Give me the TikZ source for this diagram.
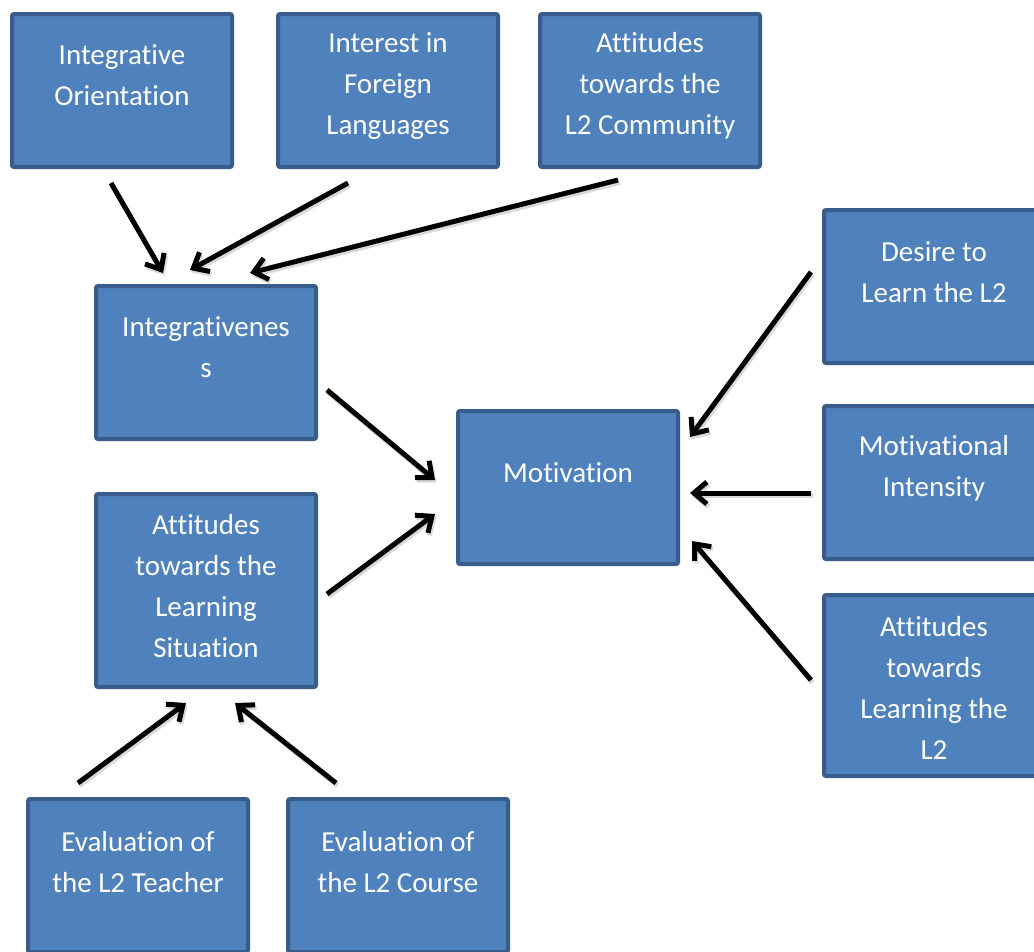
\documentclass[tikz,border=0pt]{standalone}
\usepackage{fontspec}
\setmainfont{Carlito}[Ligatures=NoCommon]
\usetikzlibrary{arrows.meta}
\definecolor{boxfill}{HTML}{4F81BD}
\definecolor{boxline}{HTML}{385D8A}
\tikzset{
  box/.style={draw=boxline, fill=boxfill, line width=4pt, rounded corners=2pt,
    minimum width=220pt, inner sep=0pt, outer sep=0pt},
  lbl/.style={text=white, align=center, inner sep=0pt,
    font=\fontsize{29}{41}\selectfont},
  arr/.style={line width=5pt, -{Straight Barb[length=13pt,width=22pt,line width=5pt]}},
  arrshadow/.style={arr, draw=black!25, opacity=0.6, transform canvas={shift={(1.5pt,-2.5pt)}}}
}
\begin{document}
\begin{tikzpicture}[x=1pt,y=-1pt]
\useasboundingbox (0,0) rectangle (1034,951);
\clip (0,0) rectangle (1034,951);
% boxes
\node[box, minimum height=153pt] (io)    at (122,90.5)  {};
\node[box, minimum height=153pt] (ifl)   at (388,90.5)  {};
\node[box, minimum height=153pt] (alc)   at (650,90.5)  {};
\node[box, minimum height=153pt] (integ) at (206,362.5) {};
\node[box, minimum height=193pt] (als)   at (206,590.5) {};
\node[box, minimum height=153pt] (mot)   at (568,487.5) {};
\node[box, minimum height=153pt] (des)   at (934,286.5) {};
\node[box, minimum height=153pt] (mi)    at (934,482.5) {};
\node[box, minimum height=181pt] (atl)   at (934,685.5) {};
\node[box, minimum height=153pt] (evt)   at (138,875.5) {};
\node[box, minimum height=153pt] (evc)   at (398,875.5) {};
% labels
\node[lbl] (io-t)    at (122,75.5)  {Integrative\\Orientation};
\node[lbl] (ifl-t)   at (388,86)    {Interest in\\Foreign\\Languages};
\node[lbl] (alc-t)   at (650,86)    {Attitudes\\towards the\\L2 Community};
\node[lbl] (integ-t) at (206,347.5) {Integrativenes\\s};
\node[lbl] (als-t)   at (206,586)   {Attitudes\\towards the\\Learning\\Situation};
\node[lbl] (mot-t)   at (568,473)   {Motivation};
\node[lbl] (des-t)   at (934,272)   {Desire to\\Learn the L2};
\node[lbl] (mi-t)    at (934,468)   {Motivational\\Intensity};
\node[lbl] (atl-t)   at (934,688)   {Attitudes\\towards\\Learning the\\L2};
\node[lbl] (evt-t)   at (138,862)   {Evaluation of\\the L2 Teacher};
\node[lbl] (evc-t)   at (398,862)   {Evaluation of\\the L2 Course};
% connector end points
\coordinate (io-o)    at (111,183);
\coordinate (ifl-o)   at (348,183);
\coordinate (alc-o)   at (618,180);
\coordinate (integ-i1) at (163,273);
\coordinate (integ-i2) at (190,270);
\coordinate (integ-i3) at (250,273);
\coordinate (integ-o) at (327,390);
\coordinate (als-o)   at (327,594);
\coordinate (mot-i1)  at (435,480);
\coordinate (mot-i2)  at (435,514);
\coordinate (des-o)   at (811,272);
\coordinate (mi-o)    at (811,493);
\coordinate (atl-o)   at (811,680);
\coordinate (mot-i3)  at (690,437);
\coordinate (mot-i4)  at (690,493);
\coordinate (mot-i5)  at (692,541);
\coordinate (evt-o)   at (78,783);
\coordinate (evc-o)   at (336,783);
\coordinate (als-i1)  at (186,703);
\coordinate (als-i2)  at (235,703);
% connector shadows
\foreach \a/\b in {io-o/integ-i1, ifl-o/integ-i2, alc-o/integ-i3, integ-o/mot-i1,
  als-o/mot-i2, des-o/mot-i3, mi-o/mot-i4, atl-o/mot-i5, evt-o/als-i1, evc-o/als-i2}
  \draw[arrshadow] (\a) -- (\b);
% connectors
\draw[arr] (io-o) -- (integ-i1);
\draw[arr] (ifl-o) -- (integ-i2);
\draw[arr] (alc-o) -- (integ-i3);
\draw[arr] (integ-o) -- (mot-i1);
\draw[arr] (als-o) -- (mot-i2);
\draw[arr] (des-o) -- (mot-i3);
\draw[arr] (mi-o) -- (mot-i4);
\draw[arr] (atl-o) -- (mot-i5);
\draw[arr] (evt-o) -- (als-i1);
\draw[arr] (evc-o) -- (als-i2);
\end{tikzpicture}
\end{document}
